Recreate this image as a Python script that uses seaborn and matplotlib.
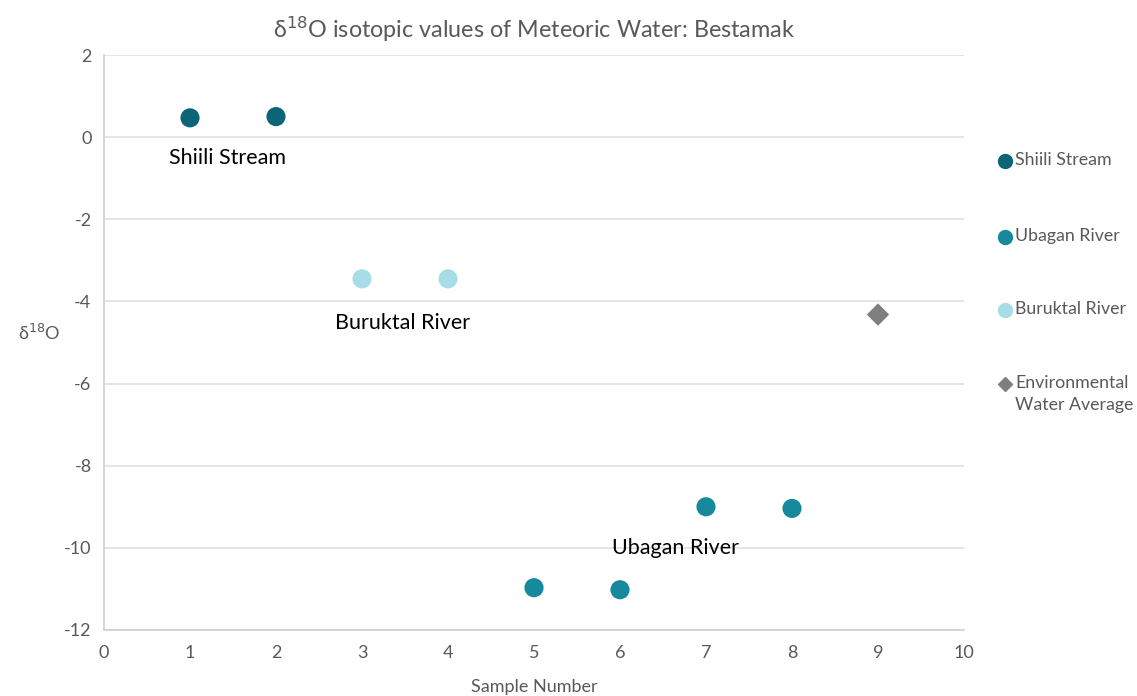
import pandas as pd
import matplotlib.pyplot as plt
import seaborn as sns
from matplotlib.lines import Line2D

# Данные с графика
sample_no = [1, 2, 3, 4, 5, 6, 7, 8, 9]
d18o = [0.47, 0.50, -3.45, -3.45, -10.97, -11.02, -9.00, -9.04, -4.32]
source = ["Shiili Stream", "Shiili Stream", "Buruktal River", "Buruktal River",
          "Ubagan River", "Ubagan River", "Ubagan River", "Ubagan River",
          "Environmental Water Average"]
series_order = ["Shiili Stream", "Ubagan River", "Buruktal River", "Environmental Water Average"]
legend_labels = ["Shiili Stream", "Ubagan River", "Buruktal River", "Environmental\nWater Average"]
series_colors = ["#0b6577", "#168a9c", "#a7dde6", "#7f7f7f"]
series_markers = ["o", "o", "o", "D"]
x_ticks = list(range(0, 11))
y_ticks = list(range(-12, 3, 2))

df = pd.DataFrame({"Sample Number": sample_no, "d18O": d18o, "source": source})

sns.set_style("white")
plt.rcParams['font.family'] = ['Lato', 'DejaVu Sans']
plt.rcParams['axes.unicode_minus'] = False

W, H = 1137, 696
fig = plt.figure(figsize=(W / 100, H / 100), dpi=100)
ax = fig.add_axes([104 / W, 1 - 630 / H, 860 / W, 575 / H])

sns.scatterplot(
    data=df, x="Sample Number", y="d18O", hue="source", style="source",
    hue_order=series_order, style_order=series_order,
    palette=dict(zip(series_order, series_colors)),
    markers=dict(zip(series_order, series_markers)),
    size="source", sizes={s: (190 if m == "o" else 130) for s, m in zip(series_order, series_markers)},
    linewidth=0, ax=ax, legend=False, zorder=3
)

ax.set_xlim(0, 10)
ax.set_ylim(-12, 2)
ax.set_xticks(x_ticks)
ax.set_yticks(y_ticks)
ax.tick_params(axis='both', labelsize=13, labelcolor="#595959", length=0, pad=9)
ax.tick_params(axis='x', length=5, color="#d0d0d0", direction='out', pad=6)
ax.yaxis.grid(True, color="#e0e0e0", linewidth=1.2)
ax.xaxis.grid(False)
for side in ["top", "right"]:
    ax.spines[side].set_visible(False)
for side in ["left", "bottom"]:
    ax.spines[side].set_color("#d0d0d0")
    ax.spines[side].set_linewidth(1.2)

ax.set_title("δ$^{18}$O isotopic values of Meteoric Water: Bestamak", fontsize=16.8, color="#595959", pad=12)
ax.set_xlabel("Sample Number", fontsize=13, color="#595959", labelpad=13)
ax.set_ylabel("δ$^{18}$O", fontsize=13, color="#595959", rotation=0)
ax.yaxis.set_label_coords(-0.075, 0.5)

# подписи групп
ax.text(1.44, -0.51, "Shiili Stream", fontsize=15.5, ha="center", va="center", color="black")
ax.text(3.47, -4.53, "Buruktal River", fontsize=15.5, ha="center", va="center", color="black")
ax.text(6.64, -10.0, "Ubagan River", fontsize=15.5, ha="center", va="center", color="black")

# легенда справа (вручную, маркер на уровне первой строки)
leg_y = [161, 237, 310, 384]
for lab, c, m, yp in zip(legend_labels, series_colors, series_markers, leg_y):
    fy = 1 - yp / H
    fig.add_artist(Line2D([1005 / W], [fy], transform=fig.transFigure, linestyle="none",
                          marker=m, color=c, markersize=10 if m == "o" else 7.5))
    fig.text(1015 / W, fy + 9 / H, lab, fontsize=12.8, color="#595959", ha="left", va="top",
             linespacing=1.45)

fig.savefig("out.png", dpi=100)
